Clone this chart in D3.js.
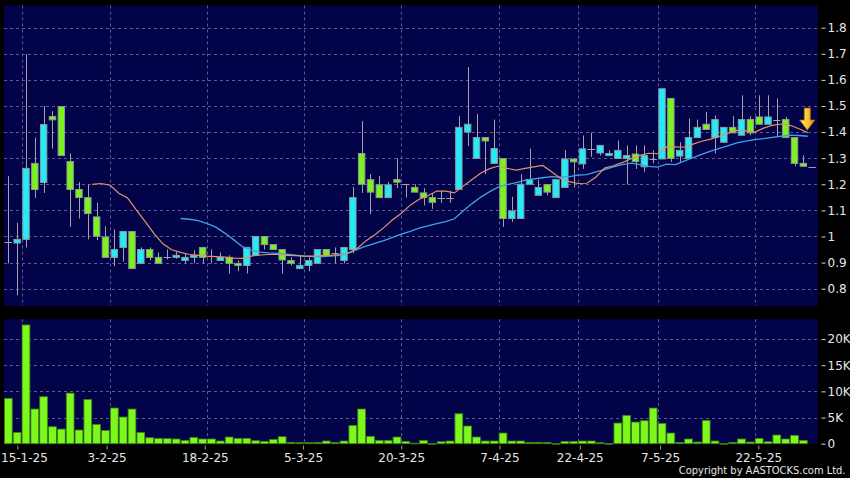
<!DOCTYPE html>
<html><head><meta charset="utf-8">
<script src="https://cdn.jsdelivr.net/npm/d3@7"></script>
<style>html,body{margin:0;padding:0;background:#000;overflow:hidden}</style>
</head><body><svg id="c" width="850" height="478"></svg>
<script>
// ---------------- DATA ----------------
const dates = [
"2025-01-14","2025-01-15","2025-01-16","2025-01-17","2025-01-20","2025-01-21","2025-01-22","2025-01-23","2025-01-24","2025-01-27","2025-01-28",
"2025-02-03","2025-02-04","2025-02-05","2025-02-06","2025-02-07","2025-02-10","2025-02-11","2025-02-12","2025-02-13","2025-02-14","2025-02-17","2025-02-18","2025-02-19","2025-02-20","2025-02-21","2025-02-24","2025-02-25","2025-02-26","2025-02-27","2025-02-28",
"2025-03-03","2025-03-04","2025-03-05","2025-03-06","2025-03-07","2025-03-10","2025-03-11","2025-03-12","2025-03-13","2025-03-14","2025-03-17","2025-03-18","2025-03-19","2025-03-20","2025-03-21","2025-03-24","2025-03-25","2025-03-26","2025-03-27","2025-03-28","2025-03-31",
"2025-04-01","2025-04-02","2025-04-03","2025-04-07","2025-04-08","2025-04-09","2025-04-10","2025-04-11","2025-04-14","2025-04-15","2025-04-16","2025-04-17","2025-04-22","2025-04-23","2025-04-24","2025-04-25","2025-04-28","2025-04-29","2025-04-30",
"2025-05-02","2025-05-06","2025-05-07","2025-05-08","2025-05-09","2025-05-12","2025-05-13","2025-05-14","2025-05-15","2025-05-16","2025-05-19","2025-05-20","2025-05-21","2025-05-22","2025-05-23","2025-05-26","2025-05-27","2025-05-28","2025-05-29","2025-05-30",
"2025-06-02"];

const openP = [0.978,0.975,0.989,1.280,1.207,1.460,1.498,1.287,1.180,1.149,1.075,0.998,0.920,0.958,1.019,0.897,0.950,0.920,0.923,0.920,
0.908,0.920,0.958,0.924,0.908,0.920,0.897,0.889,0.928,1.000,0.969,0.950,0.908,0.877,0.889,0.897,0.950,0.935,0.908,0.950,
1.318,1.218,1.198,1.149,1.218,1.200,1.188,1.167,1.149,1.149,1.149,1.180,1.400,1.299,1.379,1.280,1.299,1.069,1.069,1.200,
1.158,1.199,1.149,1.188,1.297,1.278,1.336,1.320,1.310,1.299,1.299,1.316,1.267,1.297,1.297,1.529,1.308,1.299,1.379,1.430,
1.379,1.361,1.418,1.388,1.448,1.458,1.430,1.448,1.448,1.379,1.280,1.268];
const highP = [1.231,1.052,1.698,1.379,1.499,1.480,1.498,1.318,1.209,1.200,1.130,1.039,1.027,1.019,1.019,0.958,0.958,0.939,0.950,0.941,
0.935,0.947,0.958,0.950,0.939,0.928,0.908,0.958,1.000,1.000,0.969,0.950,0.920,0.927,0.920,0.950,0.950,0.958,0.958,1.190,
1.442,1.239,1.231,1.209,1.299,1.200,1.200,1.185,1.166,1.175,1.175,1.461,1.649,1.469,1.379,1.448,1.299,1.152,1.239,1.337,
1.218,1.199,1.218,1.331,1.297,1.387,1.398,1.349,1.330,1.368,1.349,1.349,1.349,1.330,1.566,1.529,1.361,1.452,1.448,1.477,
1.464,1.418,1.461,1.541,1.461,1.541,1.541,1.529,1.458,1.379,1.311,1.268];
const lowP = [0.897,0.775,0.958,1.148,1.167,1.336,1.310,1.037,1.069,0.989,0.986,0.920,0.886,0.904,0.877,0.897,0.909,0.897,0.912,0.915,
0.897,0.897,0.897,0.897,0.908,0.858,0.867,0.858,0.928,0.950,0.950,0.858,0.889,0.877,0.867,0.897,0.927,0.897,0.897,0.935,
1.167,1.085,1.149,1.149,1.186,1.149,1.170,1.119,1.106,1.129,1.129,1.180,1.346,1.299,1.239,1.280,1.037,1.056,1.069,1.200,
1.158,1.158,1.149,1.188,1.188,1.259,1.305,1.310,1.310,1.299,1.199,1.259,1.248,1.280,1.297,1.286,1.286,1.299,1.379,1.410,
1.318,1.361,1.397,1.388,1.388,1.430,1.430,1.382,1.379,1.269,1.269,1.268];
const closeP = [0.978,0.989,1.261,1.180,1.429,1.447,1.310,1.180,1.149,1.088,1.001,0.920,0.950,1.019,0.877,0.950,0.920,0.897,0.923,0.928,
0.920,0.928,0.920,0.924,0.920,0.897,0.889,0.958,1.000,0.969,0.950,0.910,0.897,0.889,0.908,0.950,0.927,0.935,0.958,1.149,
1.200,1.170,1.149,1.198,1.208,1.200,1.170,1.149,1.131,1.149,1.149,1.418,1.430,1.379,1.366,1.337,1.069,1.098,1.200,1.218,
1.188,1.170,1.218,1.297,1.286,1.336,1.336,1.349,1.318,1.330,1.310,1.287,1.310,1.297,1.566,1.299,1.330,1.379,1.418,1.410,
1.448,1.418,1.397,1.448,1.397,1.430,1.458,1.448,1.379,1.280,1.269,1.268];
// volume in thousands of shares
const volumeK = [8.67,2.17,22.7,6.63,8.98,3.25,2.8,9.68,2.62,8.47,3.7,2.55,6.82,5.1,6.63,2.17,1.15,1.02,0.96,0.9,
0.64,1.22,0.9,0.9,0.52,1.28,1.02,1.02,0.58,0.45,0.83,1.34,0.26,0.2,0.2,0.26,0.52,0.26,0.52,3.5,
6.63,1.41,0.64,0.64,1.28,0.45,0.1,0.64,0.05,0.38,0.52,5.73,3.38,1.28,0.52,0.52,2.04,0.52,0.52,0.26,
0.26,0.26,0.05,0.45,0.45,0.52,0.52,0.2,0.05,3.95,5.42,4.14,4.4,6.82,3.89,2.04,0.26,0.9,0.32,4.46,
0.52,0.05,0.26,0.9,0.32,1.02,0.38,1.66,0.9,1.6,0.64,0];
// 10-day average (orange) from index 9, 20-day average (blue) from index 19
const ma10Start = 9;
const ma10 = [1.200,1.203,1.197,1.166,1.148,1.101,1.057,1.011,0.972,0.949,
0.939,0.931,0.928,0.925,0.923,0.921,0.917,0.916,0.925,0.929,
0.931,0.932,0.928,0.927,0.925,0.925,0.927,0.928,0.931,0.937,
0.954,0.984,1.007,1.034,1.064,1.089,1.120,1.143,1.156,1.174,
1.174,1.167,1.193,1.218,1.243,1.260,1.270,1.261,1.254,1.261,
1.267,1.272,1.248,1.223,1.210,1.203,1.204,1.227,1.262,1.271,
1.283,1.298,1.311,1.319,1.317,1.343,1.343,1.342,1.354,1.365,
1.373,1.384,1.396,1.407,1.405,1.400,1.415,1.426,1.431,1.426,
1.413,1.398];
const ma20Start = 19;
const ma20 = [1.069,1.066,1.061,1.049,1.036,1.013,0.988,0.961,0.948,0.940,
0.937,0.935,0.932,0.929,0.925,0.923,0.923,0.925,0.928,0.936,
0.951,0.963,0.974,0.984,0.997,1.009,1.020,1.032,1.041,1.049,
1.057,1.068,1.099,1.126,1.151,1.172,1.190,1.199,1.206,1.216,
1.221,1.225,1.229,1.227,1.229,1.235,1.237,1.248,1.256,1.267,
1.275,1.281,1.275,1.269,1.266,1.277,1.275,1.289,1.302,1.315,
1.327,1.338,1.348,1.359,1.365,1.371,1.375,1.380,1.384,1.388,
1.387,1.384];
const priceTicks = [0.8,0.9,1,1.1,1.2,1.3,1.4,1.5,1.6,1.7,1.8];
const volumeTicks = [0,5,10,15,20];
const xTickDates = ["2025-01-15","2025-02-03","2025-02-18","2025-03-05","2025-03-20","2025-04-07","2025-04-22","2025-05-07","2025-05-22"];
const xTickLabels = ["15-1-25","3-2-25","18-2-25","5-3-25","20-3-25","7-4-25","22-4-25","7-5-25","22-5-25"];

// ---------------- LAYOUT ----------------
const W = 850, H = 478;
const P = {left:4, right:817.7, top:5.5, bottom:306};
const V = {left:4, right:817.7, top:319.2, bottom:443.7};
const FONT = "DejaVu Sans";
const COL = {bg:"#000", panel:"#03034a", grid:"#5a5a92", text:"#e6e6e6",
  up:"#22ecfa", down:"#7cf21e", outline:"#8d9a9a", wick:"#a4a4a4",
  vol:"#7cf81c", volOut:"#3c7a16", ma10:"#e2936a", ma20:"#3ea2e6"};

const svg = d3.select("#c");
svg.append("rect").attr("width",W).attr("height",H).attr("fill",COL.bg);

const x = d3.scaleBand().domain(dates).range([3.9, 816.6]).paddingInner(0.16).paddingOuter(0.08);
const step = x.step(), bw = x.bandwidth();
const cx = d => x(d) + bw/2;
const y = d3.scaleLinear().domain([0.7337, 1.885]).range([P.bottom, P.top]);
const yv = d3.scaleLinear().domain([0, 23.8]).range([V.bottom, V.top]);
const tickX = d3.scaleLinear().domain([0, dates.length-1]).range([8.4, 820.8]);

// panels
[P, V].forEach(p => svg.append("rect").attr("x",p.left).attr("y",p.top)
  .attr("width",p.right-p.left).attr("height",p.bottom-p.top).attr("fill",COL.panel));

// grid
const grid = svg.append("g").attr("stroke",COL.grid).attr("stroke-width",1).attr("stroke-dasharray","3,3").attr("fill","none");
priceTicks.forEach(t => grid.append("line").attr("x1",P.left).attr("x2",P.right)
  .attr("y1",Math.round(y(t))+0.5).attr("y2",Math.round(y(t))+0.5));
volumeTicks.filter(t=>t>0).forEach(t => grid.append("line").attr("x1",V.left).attr("x2",V.right)
  .attr("y1",Math.round(yv(t))+0.5).attr("y2",Math.round(yv(t))+0.5));
xTickDates.forEach(d => {
  const gx = Math.round(cx(d) + step/2) + 0.5;
  [P, V].forEach(p => grid.append("line").attr("x1",gx).attr("x2",gx).attr("y1",p.top).attr("y2",p.bottom));
});

// candles
const idx = d3.range(dates.length);
const cg = svg.append("g");
cg.selectAll("line.wick").data(idx).join("line").attr("class","wick")
  .attr("x1",i=>Math.round(cx(dates[i]))+0.5).attr("x2",i=>Math.round(cx(dates[i]))+0.5)
  .attr("y1",i=>y(highP[i])).attr("y2",i=>y(lowP[i]))
  .attr("stroke",COL.wick).attr("stroke-width",1);
cg.selectAll("rect.body").data(idx.filter(i=>openP[i]!==closeP[i])).join("rect").attr("class","body")
  .attr("x",i=>x(dates[i])+0.5).attr("width",bw-1)
  .attr("y",i=>y(Math.max(openP[i],closeP[i])))
  .attr("height",i=>Math.max(1.5, Math.abs(y(openP[i])-y(closeP[i]))))
  .attr("fill",i=>closeP[i]>openP[i]?COL.up:COL.down)
  .attr("stroke",COL.outline).attr("stroke-width",1);
cg.selectAll("line.doji").data(idx.filter(i=>openP[i]===closeP[i])).join("line").attr("class","doji")
  .attr("x1",i=>x(dates[i])).attr("x2",i=>x(dates[i])+bw)
  .attr("y1",i=>Math.round(y(openP[i]))+0.5).attr("y2",i=>Math.round(y(openP[i]))+0.5)
  .attr("stroke",COL.wick).attr("stroke-width",1);

// moving averages
const maLine = start => d3.line().x((v,i)=>cx(dates[i+start]) + step/2).y(v=>y(v));
svg.append("path").attr("d",maLine(ma20Start)(ma20)).attr("fill","none").attr("stroke",COL.ma20).attr("stroke-width",1.3);
svg.append("path").attr("d",maLine(ma10Start)(ma10)).attr("fill","none").attr("stroke",COL.ma10).attr("stroke-width",1.2);

// arrow marker at last average point
const defs = svg.append("defs");
const gr = defs.append("linearGradient").attr("id","ag").attr("x1","0").attr("x2","1").attr("y1","0").attr("y2","0");
gr.append("stop").attr("offset","0").attr("stop-color","#fff07a");
gr.append("stop").attr("offset","0.5").attr("stop-color","#ffc830");
gr.append("stop").attr("offset","1").attr("stop-color","#e28a10");
const lastI = ma10Start + ma10.length - 1;
const ax = cx(dates[lastI]) + step/2 - 0.5, ay = y(ma10[ma10.length-1]) - 2.5;
svg.append("path")
  .attr("d",`M${ax},${ay} L${ax-7.5},${ay-10} L${ax-3},${ay-10} L${ax-3},${ay-22} L${ax+3},${ay-22} L${ax+3},${ay-10} L${ax+7.5},${ay-10} Z`)
  .attr("fill","url(#ag)").attr("stroke","#b87410").attr("stroke-width",0.8);

// volume bars
svg.append("g").selectAll("rect").data(idx.filter(i=>volumeK[i]>0)).join("rect")
  .attr("x",i=>x(dates[i])-0.2).attr("width",bw+0.4)
  .attr("y",i=>yv(volumeK[i])).attr("height",i=>Math.max(0.8, yv(0)-yv(volumeK[i])))
  .attr("fill",COL.vol).attr("stroke",COL.volOut).attr("stroke-width",0.8);

// right axes
const styleAxis = g => {
  g.select(".domain").remove();
  g.selectAll(".tick line").attr("stroke","#d8d8d8");
  g.selectAll(".tick text").attr("fill",COL.text).attr("font-family",FONT).attr("font-size","12px");
};
svg.append("g").attr("transform","translate(821.5,0)")
  .call(d3.axisRight(y).tickValues(priceTicks).tickSize(4).tickPadding(2).tickFormat(d3.format("")))
  .call(styleAxis);
svg.append("g").attr("transform","translate(821.5,0)")
  .call(d3.axisRight(yv).tickValues(volumeTicks).tickSize(4).tickPadding(2).tickFormat(d=>d===0?"0":d+"K"))
  .call(styleAxis);

// bottom axis
svg.append("g").attr("transform","translate(0,445.5)")
  .call(d3.axisBottom(tickX).tickValues(xTickDates.map(d=>dates.indexOf(d))).tickSize(4).tickPadding(3.5)
    .tickFormat((d,i)=>xTickLabels[i]))
  .call(g=>{g.select(".domain").remove();
    g.selectAll(".tick line").attr("stroke","#9a9a9a");
    g.selectAll(".tick text").attr("fill",COL.text).attr("font-family",FONT).attr("font-size","12px");
    // keep the first label inside the picture
    g.selectAll(".tick text").filter((d,i)=>i===0)
      .attr("text-anchor","start").attr("x",-tickX(dates.indexOf(xTickDates[0]))+0.5);
  });

// copyright
svg.append("text").attr("x",845.5).attr("y",474.3).attr("fill",COL.text)
  .attr("text-anchor","end")
  .attr("font-family","'DejaVu Sans Condensed','Liberation Sans',sans-serif").attr("font-size","11px")
  .text("Copyright by AASTOCKS.com Ltd.");
</script></body></html>
